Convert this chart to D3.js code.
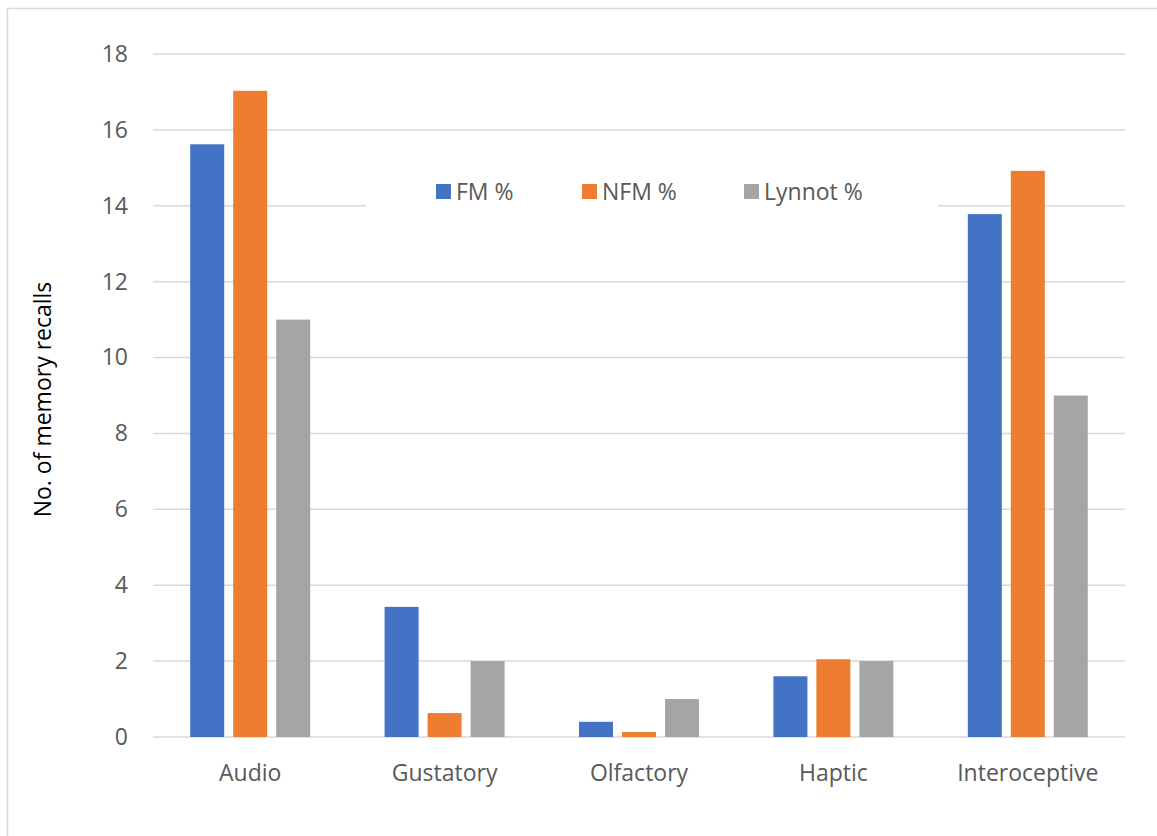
<!DOCTYPE html>
<html>
<head>
<meta charset="utf-8">
<script src="https://cdn.jsdelivr.net/npm/d3@7"></script>
<style>
  html, body { margin: 0; padding: 0; background: #fff; }
  svg { display: block; }
  text { font-family: "Open Sans", "Noto Sans", sans-serif; }
</style>
</head>
<body>
<div id="chart"></div>
<script>
// Memory recalls by sense modality, per group
const categories = ["Audio", "Gustatory", "Olfactory", "Haptic", "Interoceptive"];
const seriesNames = ["FM %", "NFM %", "Lynnot %"];
const fmValues = [15.62, 3.43, 0.4, 1.6, 13.78];
const nfmValues = [17.03, 0.63, 0.13, 2.05, 14.92];
const lynnotValues = [11, 2, 1, 2, 9];
const yTicks = [0, 2, 4, 6, 8, 10, 12, 14, 16, 18];
const colors = ["#4472C4", "#ED7D31", "#A5A5A5"];

const seriesValues = [fmValues, nfmValues, lynnotValues];
const data = categories.map((c, i) => ({
  category: c,
  values: seriesNames.map((s, j) => ({ series: s, value: seriesValues[j][i], color: colors[j] }))
}));

const W = 1157, H = 836;
const plot = { left: 153, right: 1125, top: 54, bottom: 737 };
const fontSize = 23;

const svg = d3.select("#chart").append("svg")
  .attr("width", W).attr("height", H);

// chart frame
svg.append("rect")
  .attr("x", 7.5).attr("y", 8.5)
  .attr("width", W + 10).attr("height", H + 10)
  .attr("fill", "#fff").attr("stroke", "#D9D9D9").attr("stroke-width", 1.5);

const y = d3.scaleLinear().domain([0, 18]).range([plot.bottom, plot.top]);
const x0 = d3.scaleBand().domain(categories).range([plot.left, plot.right]).padding(0);
const x1 = d3.scaleBand().domain(seriesNames).range([0, x0.bandwidth()])
  .paddingInner(0.209).paddingOuter(0.865);

// gridlines
svg.append("g")
  .selectAll("line").data(yTicks).join("line")
  .attr("x1", plot.left).attr("x2", plot.right)
  .attr("y1", d => y(d)).attr("y2", d => y(d))
  .attr("stroke", "#D9D9D9").attr("stroke-width", 1.5);

// y tick labels
const yAxis = d3.axisLeft(y).tickValues(yTicks).tickSize(0).tickPadding(0);
const yg = svg.append("g").attr("transform", `translate(128,0)`).call(yAxis);
yg.select(".domain").remove();
yg.selectAll("text")
  .attr("font-size", fontSize).attr("fill", "#595959")
  .attr("font-family", "'Open Sans', sans-serif");

// bars
const groups = svg.append("g").selectAll("g").data(data).join("g")
  .attr("transform", d => `translate(${x0(d.category)},0)`);
groups.selectAll("rect").data(d => d.values).join("rect")
  .attr("x", d => x1(d.series))
  .attr("width", x1.bandwidth())
  .attr("y", d => y(d.value))
  .attr("height", d => y(0) - y(d.value))
  .attr("fill", d => d.color);

// category axis
const xAxis = d3.axisBottom(x0).tickSize(0).tickPadding(0);
const xg = svg.append("g").attr("transform", `translate(0,${plot.bottom})`).call(xAxis);
xg.select(".domain").remove();
xg.selectAll("text")
  .attr("dy", 0).attr("y", 44)
  .attr("font-size", fontSize).attr("fill", "#595959")
  .attr("font-family", "'Open Sans', sans-serif");

// y-axis title
svg.append("text")
  .attr("transform", `translate(51,${(plot.top + plot.bottom) / 2 + 4}) rotate(-90)`)
  .attr("text-anchor", "middle")
  .attr("font-size", fontSize).attr("fill", "#000")
  .text("No. of memory recalls");

// legend with white backing
const legend = svg.append("g");
legend.append("rect")
  .attr("x", 366).attr("y", 168).attr("width", 572).attr("height", 48)
  .attr("fill", "#fff");
const legendX = [436, 582, 744];
const items = legend.selectAll("g").data(seriesNames).join("g")
  .attr("transform", (d, i) => `translate(${legendX[i]},184)`);
items.append("rect").attr("width", 15).attr("height", 15)
  .attr("fill", (d, i) => colors[i]);
items.append("text").attr("x", 20).attr("y", 16)
  .attr("font-size", fontSize).attr("fill", "#595959")
  .text(d => d);
</script>
</body>
</html>
